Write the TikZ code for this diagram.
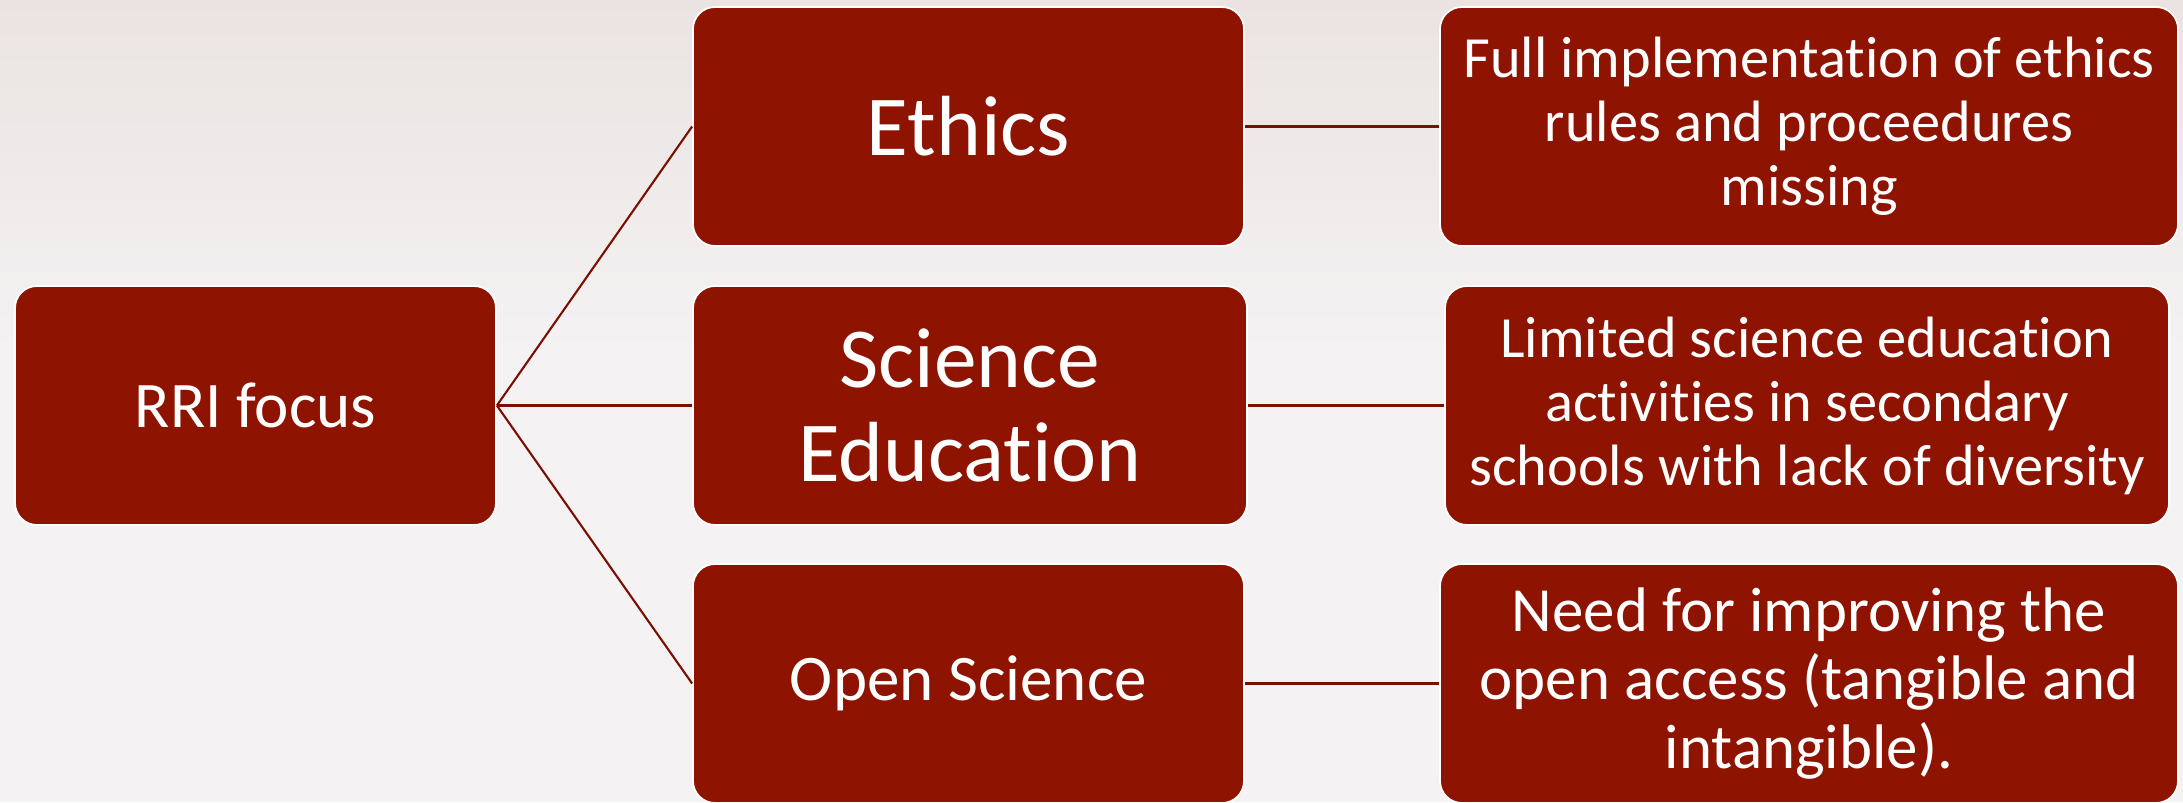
\documentclass[tikz,border=0pt]{standalone}
\usepackage{fontspec}
\setmainfont{Carlito}[Ligatures=NoCommon]
\definecolor{boxred}{HTML}{8E1300}
\definecolor{linered}{HTML}{7A1002}
\definecolor{bgtop}{HTML}{EAE3E1}
\definecolor{bgbot}{HTML}{F4F2F3}
\tikzset{
    item/.style={rectangle, rounded corners=0.22cm, fill=boxred, draw=white, line width=0.5pt,
        text=white, align=center, minimum height=2.39cm, inner sep=0pt},
    link/.style={draw=linered, line width=0.6pt}
}

\begin{document}
\begin{tikzpicture}
        \shade[top color=bgtop, bottom color=bgbot] (0, 4.5) rectangle (21.83, 8.02);
        \fill[bgbot] (0, 0) rectangle (21.83, 4.5);
        \useasboundingbox (0, 0) rectangle (21.83, 8.02);
        \node[item, minimum width=4.81cm, font=\fontsize{18.5}{20}\selectfont] (focus) at (2.555, 3.965) {RRI focus};
        \node[item, minimum width=5.51cm, font=\fontsize{24.3}{26.7}\selectfont] (ethics) at (9.685, 6.755) {Ethics};
        \node[item, minimum width=5.54cm, font=\fontsize{24.3}{26.7}\selectfont] (edu) at (9.70, 3.965) {Science\\Education};
        \node[item, minimum width=5.51cm, font=\fontsize{18.5}{20}\selectfont] (open) at (9.685, 1.185) {Open Science};
        \node[item, minimum width=7.38cm, font=\fontsize{16.6}{18.2}\selectfont] (ethicsgap) at (18.09, 6.755) {Full implementation of ethics\\rules and proceedures\\missing};
        \node[item, minimum width=7.24cm, font=\fontsize{16.6}{18.2}\selectfont] (edugap) at (18.07, 3.965) {Limited science education\\activities in secondary\\schools with lack of diversity};
        \node[item, minimum width=7.38cm, font=\fontsize{17.9}{19.4}\selectfont] (opengap) at (18.09, 1.185) {Need for improving the\\open access (tangible and\\intangible).};
        \draw[link] (focus.east) -- (ethics.west);
        \draw[link] (focus.east) -- (edu.west);
        \draw[link] (focus.east) -- (open.west);
        \draw[link] (ethics.east) -- (ethicsgap.west);
        \draw[link] (edu.east) -- (edugap.west);
        \draw[link] (open.east) -- (opengap.west);
    \end{tikzpicture}
\end{document}
